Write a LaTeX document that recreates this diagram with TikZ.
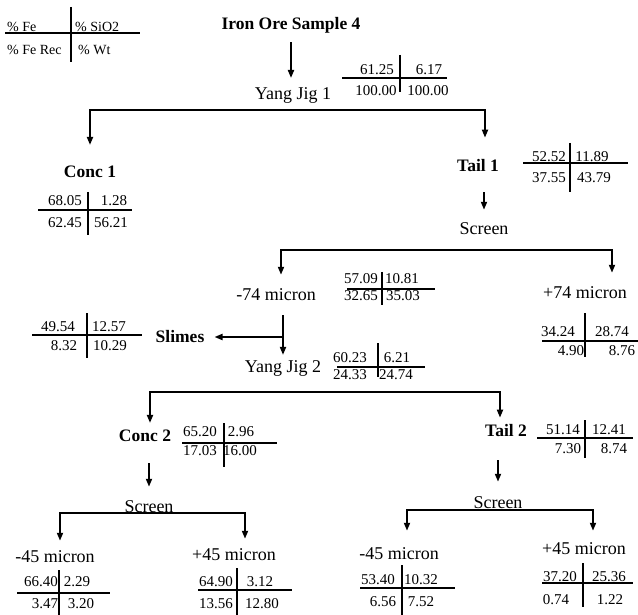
\documentclass[tikz,border=0pt]{standalone}
\usepackage{fontspec}
\setmainfont{Liberation Serif}
\usetikzlibrary{arrows.meta}

\begin{document}
\begin{tikzpicture}[x=1pt,y=-1pt]
		\tikzstyle{lbl}=[inner sep=1pt, font=\fontsize{18}{20}\selectfont]
		\tikzstyle{blbl}=[inner sep=1pt, font=\fontsize{17.5}{20}\selectfont\bfseries]
		\tikzstyle{num}=[inner sep=0pt, font=\fontsize{15}{17}\selectfont]
		\tikzstyle{key}=[inner sep=0pt, anchor=west, font=\fontsize{14}{16}\selectfont]
		\tikzstyle{hrule}=[draw, line width=2pt]
		\tikzstyle{vrule}=[draw, line width=1.4pt]
		\tikzstyle{arr}=[draw, line width=1.8pt, -{Triangle[length=8pt,width=6pt]}]
		\tikzstyle{feed}=[draw, line width=1.8pt]

		\useasboundingbox (0,0) rectangle (638,615);

		% key
		\node[key] (k1) at (7,27) {\% Fe};
		\node[key] (k2) at (75,27) {\% SiO2};
		\node[key] (k3) at (7,50) {\% Fe Rec};
		\node[key] (k4) at (78,50) {\% Wt};
		\draw[hrule] (5,33) -- (140,33);
		\draw[vrule] (71,7) -- (71,62);

		% units
		\node[blbl] (title) at (291,25) {Iron Ore Sample 4};
		\node[lbl] (yj1) at (293,95) {Yang Jig 1};
		\node[blbl] (conc1) at (90,172) {Conc 1};
		\node[blbl] (tail1) at (478,166) {Tail 1};
		\node[lbl] (scr1) at (484,229) {Screen};
		\node[lbl] (m74) at (276,295) {-74 micron};
		\node[lbl] (p74) at (585,293) {+74 micron};
		\node[blbl] (slimes) at (180,337) {Slimes};
		\node[lbl] (yj2) at (283,368) {Yang Jig 2};
		\node[blbl] (conc2) at (145,436) {Conc 2};
		\node[blbl] (tail2) at (506,431) {Tail 2};
		\node[lbl] (scr2) at (149,507) {Screen};
		\node[lbl] (scr3) at (498,503) {Screen};
		\node[lbl] (m45a) at (55,557) {-45 micron};
		\node[lbl] (p45a) at (234,555) {+45 micron};
		\node[lbl] (m45b) at (399,554) {-45 micron};
		\node[lbl] (p45b) at (584,549) {+45 micron};

		\coordinate (b1) at (292,110);
		\coordinate (b2) at (484,250);
		\coordinate (b3) at (283,392);
		\coordinate (b4) at (149,513);
		\coordinate (b5) at (498,510);

		% flows
		\draw[arr, shorten <=8pt, shorten >=17pt] (title) -- (title |- yj1);
		\draw[feed] (yj1 |- b1) -- (b1);
		\draw[arr, shorten >=20pt] (b1) -| (conc1.north);
		\draw[arr, shorten >=21pt] (b1) -| ([xshift=7pt]tail1.north);
		\draw[arr, shorten <=19pt, shorten >=12pt] (scr1 |- tail1.south) -- (scr1.north);
		\draw[arr, shorten >=13pt] (b2) -| ([xshift=5pt]m74.north);
		\draw[arr, shorten >=13pt] (b2) -| ([xshift=27pt]p74.north);
		\draw[arr, shorten <=13pt, shorten >=4pt] (yj2 |- m74.south) -- (yj2.north);
		\draw[arr, shorten >=9pt] (yj2 |- slimes) -- (slimes);
		\draw[arr, shorten >=6pt] (b3) -| ([xshift=5pt]conc2.north);
		\draw[arr, shorten >=6pt] (b3) -| ([xshift=-6pt]tail2.north);
		\draw[arr, shorten <=20pt, shorten >=13pt] (scr2 |- conc2.south) -- (scr2.north);
		\draw[arr, shorten >=9pt] (b4) -| ([xshift=5pt]m45a.north);
		\draw[arr, shorten >=9pt] (b4) -| ([xshift=11pt]p45a.north);
		\draw[arr, shorten <=22pt, shorten >=14pt] (scr3 |- tail2.south) -- (scr3.north);
		\draw[arr, shorten >=16pt] (b5) -| ([xshift=8pt]m45b.north);
		\draw[arr, shorten >=11pt] (b5) -| ([xshift=9pt]p45b.north);

		% feed
		\node[num] (t1a) at (377,70) {61.25};
		\node[num] (t1b) at (429,70) {6.17};
		\node[num] (t1c) at (376,91) {100.00};
		\node[num] (t1d) at (428,91) {100.00};
		\draw[hrule] (342,78) -- (447,78);
		\draw[vrule] (400,55) -- (400,92);

		% conc 1
		\node[num] (t2a) at (65,201) {68.05};
		\node[num] (t2b) at (114,201) {1.28};
		\node[num] (t2c) at (65,223) {62.45};
		\node[num] (t2d) at (111,223) {56.21};
		\draw[hrule] (38,210) -- (132,210);
		\draw[vrule] (88,192) -- (88,235);

		% tail 1
		\node[num] (t3a) at (549,157) {52.52};
		\node[num] (t3b) at (592,157) {11.89};
		\node[num] (t3c) at (549,178) {37.55};
		\node[num] (t3d) at (594,178) {43.79};
		\draw[hrule] (523,163) -- (628,163);
		\draw[vrule] (570,143) -- (570,192);

		% -74 micron
		\node[num] (t4a) at (361,279) {57.09};
		\node[num] (t4b) at (402,279) {10.81};
		\node[num] (t4c) at (361,296) {32.65};
		\node[num] (t4d) at (403,296) {35.03};
		\draw[hrule] (347,289) -- (435,289);
		\draw[vrule] (382,272) -- (382,305);

		% +74 micron
		\node[num] (t5a) at (558,332) {34.24};
		\node[num] (t5b) at (612,332) {28.74};
		\node[num] (t5c) at (571,351) {4.90};
		\node[num] (t5d) at (622,351) {8.76};
		\draw[hrule] (542,341) -- (638,341);
		\draw[vrule] (585,313) -- (585,357);

		% slimes
		\node[num] (t6a) at (58,327) {49.54};
		\node[num] (t6b) at (109,327) {12.57};
		\node[num] (t6c) at (64,346) {8.32};
		\node[num] (t6d) at (110,346) {10.29};
		\draw[hrule] (32,335) -- (142,335);
		\draw[vrule] (87,313) -- (87,358);

		% yang jig 2
		\node[num] (t7a) at (350,358) {60.23};
		\node[num] (t7b) at (397,358) {6.21};
		\node[num] (t7c) at (350,375) {24.33};
		\node[num] (t7d) at (396,375) {24.74};
		\draw[hrule] (337,367) -- (425,367);
		\draw[vrule] (378,343) -- (378,377);

		% conc 2
		\node[num] (t8a) at (200,432) {65.20};
		\node[num] (t8b) at (241,432) {2.96};
		\node[num] (t8c) at (200,451) {17.03};
		\node[num] (t8d) at (240,451) {16.00};
		\draw[hrule] (182,443) -- (277,443);
		\draw[vrule] (224,423) -- (224,467);

		% tail 2
		\node[num] (t9a) at (563,430) {51.14};
		\node[num] (t9b) at (609,430) {12.41};
		\node[num] (t9c) at (568,449) {7.30};
		\node[num] (t9d) at (614,449) {8.74};
		\draw[hrule] (537,438) -- (633,438);
		\draw[vrule] (585,420) -- (585,458);

		% -45 micron, conc 2
		\node[num] (t10a) at (41,582) {66.40};
		\node[num] (t10b) at (77,582) {2.29};
		\node[num] (t10c) at (45,604) {3.47};
		\node[num] (t10d) at (81,604) {3.20};
		\draw[hrule] (17,593) -- (110,593);
		\draw[vrule] (59,570) -- (59,615);

		% +45 micron, conc 2
		\node[num] (t11a) at (216,582) {64.90};
		\node[num] (t11b) at (260,582) {3.12};
		\node[num] (t11c) at (216,604) {13.56};
		\node[num] (t11d) at (262,604) {12.80};
		\draw[hrule] (198,590) -- (292,590);
		\draw[vrule] (237,568) -- (237,615);

		% -45 micron, tail 2
		\node[num] (t12a) at (378,580) {53.40};
		\node[num] (t12b) at (421,580) {10.32};
		\node[num] (t12c) at (383,602) {6.56};
		\node[num] (t12d) at (421,602) {7.52};
		\draw[hrule] (360,588) -- (455,588);
		\draw[vrule] (402,565) -- (402,615);

		% +45 micron, tail 2
		\node[num] (t13a) at (560,577) {37.20};
		\node[num] (t13b) at (609,577) {25.36};
		\node[num] (t13c) at (556,600) {0.74};
		\node[num] (t13d) at (610,600) {1.22};
		\draw[hrule] (542,583) -- (633,583);
		\draw[vrule] (583,563) -- (583,607);
\end{tikzpicture}
\end{document}
